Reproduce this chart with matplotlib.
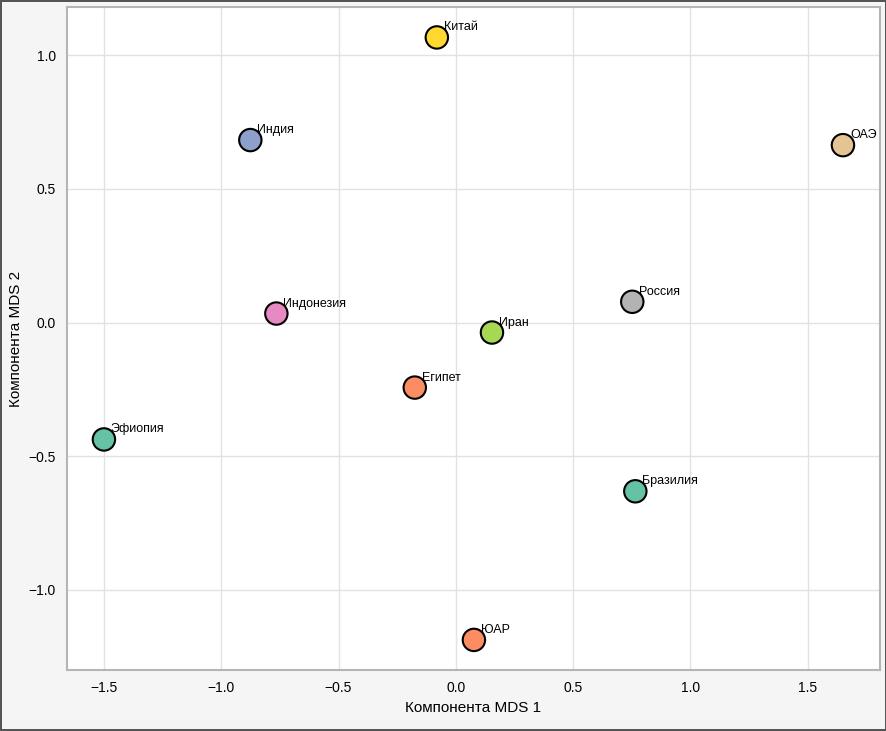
import matplotlib.pyplot as plt
import seaborn as sns

countries = ['Бразилия', 'Египет', 'Индия', 'Индонезия', 'Иран',
             'Китай', 'ОАЭ', 'Россия', 'Эфиопия', 'ЮАР']
mds1 = [0.765, -0.175, -0.876, -0.765, 0.154, -0.081, 1.650, 0.752, -1.500, 0.077]
mds2 = [-0.631, -0.243, 0.683, 0.034, -0.037, 1.067, 0.664, 0.078, -0.437, -1.187]

plt.rcParams['font.family'] = ['Liberation Sans', 'DejaVu Sans']

palette = sns.color_palette('Set2', 8)
colors = [palette[i % 8] for i in range(len(countries))]

fig = plt.figure(figsize=(8.87, 7.31), dpi=100, facecolor='#f5f5f5',
                 edgecolor='#555555', linewidth=1.5)
ax = fig.add_axes([0.0755, 0.0834, 0.9165, 0.9066])
ax.set_facecolor('white')

ax.scatter(mds1, mds2, s=260, c=colors, edgecolors='black', linewidths=1.5, zorder=3)
for name, x, y in zip(countries, mds1, mds2):
    ax.annotate(name, (x, y), xytext=(5, 5), textcoords='offset points',
                fontsize=9, zorder=4)

ax.grid(True, color='#e2e2e2', linewidth=1)
ax.set_axisbelow(True)
for sp in ax.spines.values():
    sp.set_color('#b5b5b5')
    sp.set_linewidth(1.5)
ax.tick_params(labelsize=10, length=0, pad=8)
ax.set_xlabel('Компонента MDS 1', fontsize=11)
ax.set_ylabel('Компонента MDS 2', fontsize=11)

fig.savefig('out.png', dpi=100, facecolor=fig.get_facecolor(), edgecolor=fig.get_edgecolor())
